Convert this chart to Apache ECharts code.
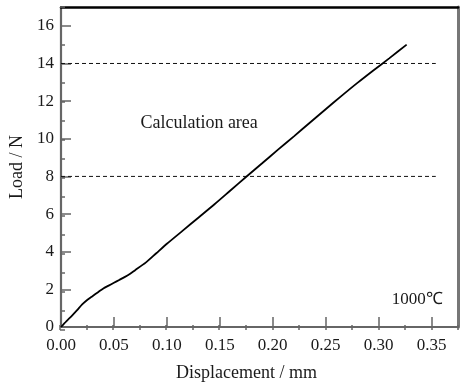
<!DOCTYPE html>
<html>
<head>
<meta charset="utf-8">
<script src="https://cdn.jsdelivr.net/npm/echarts@6/dist/echarts.min.js"></script>
<style>html,body{margin:0;padding:0;background:#fff;}#c{width:471px;height:387px;}</style>
</head>
<body>
<div id="c"></div>
<script>
const displacement = [0, 0.005, 0.01, 0.015, 0.02, 0.025, 0.03, 0.035, 0.04, 0.045, 0.05, 0.055, 0.06, 0.065, 0.07, 0.08, 0.09, 0.10, 0.115, 0.13, 0.145, 0.16, 0.175, 0.19, 0.205, 0.22, 0.235, 0.25, 0.265, 0.28, 0.295, 0.31, 0.3265];
const load = [0, 0.3, 0.58, 0.88, 1.2, 1.45, 1.65, 1.85, 2.05, 2.2, 2.35, 2.5, 2.65, 2.82, 3.02, 3.42, 3.92, 4.42, 5.12, 5.82, 6.52, 7.25, 7.98, 8.7, 9.42, 10.13, 10.85, 11.57, 12.28, 12.97, 13.63, 14.27, 15.0];
const areaBounds = [8, 14];
const areaLineEnd = 0.354;
const areaLabel = 'Calculation area';
const tempLabel = '1000℃';
const xTitle = 'Displacement / mm';
const yTitle = 'Load / N';

const FONT = 'Liberation Serif';
const gray = '#666';
const txt = '#1a1a1a';
const chart = echarts.init(document.getElementById('c'), null, {renderer: 'canvas'});
const curve = displacement.map((x, i) => [x, load[i]]);
const gridRect = {left: 60, right: 13, top: 7, bottom: 57};

const dashed = areaBounds.map(v => ({
  type: 'line', xAxisIndex: 0, yAxisIndex: 0, symbol: 'none', silent: true,
  lineStyle: {color: '#111', width: 1, type: [4, 3]},
  data: [[0, v], [areaLineEnd, v]]
}));

chart.setOption({
  animation: false,
  backgroundColor: '#fff',
  grid: [Object.assign({}, gridRect), Object.assign({}, gridRect)],
  xAxis: [
    {gridIndex: 0, type: 'value', position: 'bottom', min: 0, max: 0.375, interval: 0.05,
     axisLine: {show: true, onZero: false, lineStyle: {color: gray, width: 2.2}},
     axisTick: {show: true, inside: true, length: 10, lineStyle: {color: gray, width: 1.5}},
     axisLabel: {show: true, showMaxLabel: false, margin: 10, color: txt, fontFamily: FONT, fontSize: 17,
       formatter: v => v.toFixed(2)},
     splitLine: {show: false},
     name: xTitle, nameLocation: 'middle', nameGap: 37,
     nameTextStyle: {color: txt, fontFamily: FONT, fontSize: 18, padding: [0, 26, 0, 0]}},
    {gridIndex: 0, type: 'value', position: 'top', min: 0, max: 0.375,
     axisLine: {show: true, onZero: false, lineStyle: {color: '#000', width: 2.5}},
     axisTick: {show: false}, axisLabel: {show: false}, splitLine: {show: false}},
    {gridIndex: 1, type: 'value', position: 'bottom', min: 0, max: 0.375, interval: 0.025,
     axisLine: {show: false, onZero: false},
     axisTick: {show: true, inside: true, length: 5, lineStyle: {color: gray, width: 1.5}},
     axisLabel: {show: false}, splitLine: {show: false}}
  ],
  yAxis: [
    {gridIndex: 0, type: 'value', position: 'left', min: 0, max: 17, interval: 2,
     axisLine: {show: true, onZero: false, lineStyle: {color: gray, width: 2.2}},
     axisTick: {show: true, inside: true, length: 10, lineStyle: {color: gray, width: 1.5}},
     axisLabel: {show: true, showMaxLabel: false, margin: 7, color: txt, fontFamily: FONT, fontSize: 17},
     splitLine: {show: false},
     name: yTitle, nameLocation: 'middle', nameGap: 35, nameRotate: 90,
     nameTextStyle: {color: txt, fontFamily: FONT, fontSize: 18}},
    {gridIndex: 0, type: 'value', position: 'right', min: 0, max: 17,
     axisLine: {show: true, onZero: false, lineStyle: {color: '#777', width: 3}},
     axisTick: {show: false}, axisLabel: {show: false}, splitLine: {show: false}},
    {gridIndex: 1, type: 'value', position: 'left', min: 0, max: 17, interval: 1,
     axisLine: {show: false, onZero: false},
     axisTick: {show: true, inside: true, length: 5, lineStyle: {color: gray, width: 1.5}},
     axisLabel: {show: false}, splitLine: {show: false}}
  ],
  series: [
    ...dashed,
    {type: 'line', xAxisIndex: 0, yAxisIndex: 0, symbol: 'none', silent: true,
     smooth: 0.25,
     lineStyle: {color: '#000', width: 1.8},
     data: curve,
     markPoint: {
       symbol: 'circle', symbolSize: 0, silent: true,
       data: [
         {coord: [0.075, 10.8], label: {show: true, formatter: areaLabel, position: 'right', distance: 0,
           color: txt, fontFamily: FONT, fontSize: 18}},
         {coord: [0.3605, 1.45], label: {show: true, formatter: tempLabel, position: 'left', distance: 0,
           color: txt, fontFamily: FONT, fontSize: 17}}
       ]
     }}
  ]
});
</script>
</body>
</html>
